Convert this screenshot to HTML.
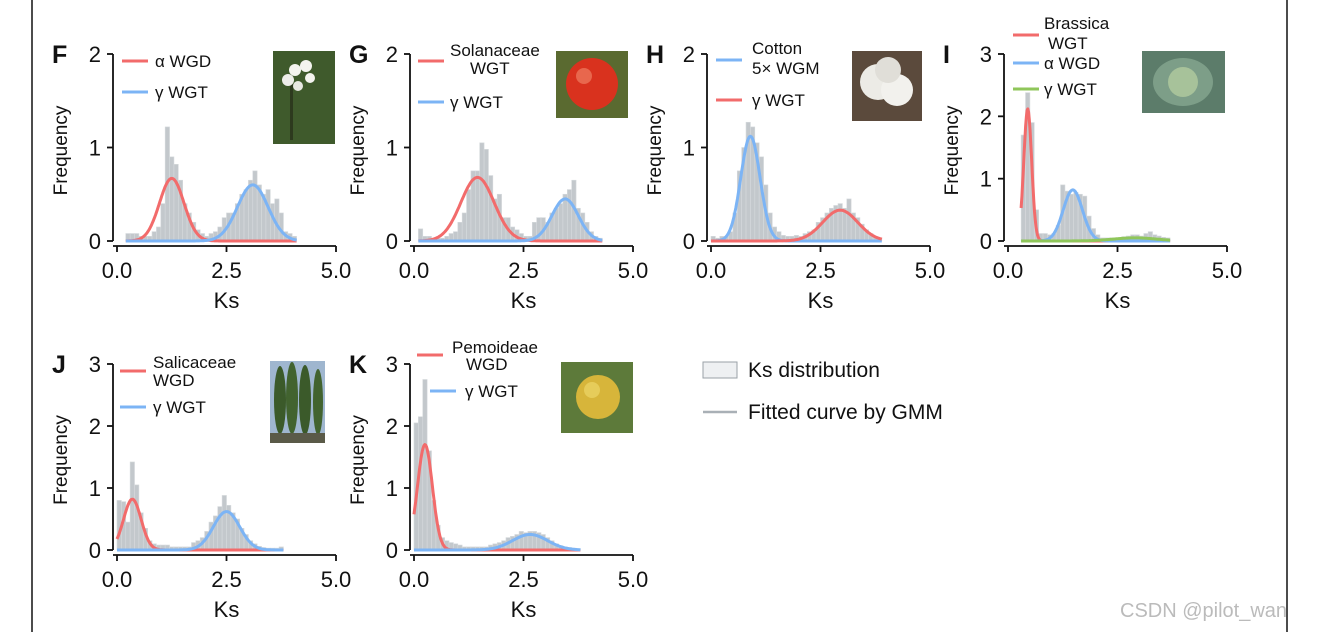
<!DOCTYPE html>
<html><head><meta charset="utf-8">
<style>
html,body{margin:0;padding:0;background:#fff;}
svg{display:block;font-family:"Liberation Sans",Arial,sans-serif;}
</style></head>
<body>
<svg id="fig" width="1324" height="632" viewBox="0 0 1324 632">
<line x1="32" y1="0" x2="32" y2="632" stroke="#111" stroke-width="1.5"/>
<line x1="1287" y1="0" x2="1287" y2="632" stroke="#111" stroke-width="1.5"/>
<g><rect x="273" y="51" width="62" height="93" fill="#3f5a2c"/><rect x="290" y="80" width="3" height="60" fill="#2d3a1e"/><circle cx="295" cy="70" r="6" fill="#f4f4ef"/><circle cx="306" cy="66" r="6" fill="#f4f4ef"/><circle cx="288" cy="80" r="6" fill="#eeeeea"/><circle cx="310" cy="78" r="5" fill="#f4f4ef"/><circle cx="298" cy="86" r="5" fill="#e8e8e2"/></g>
<g><rect x="556" y="51" width="72" height="67" fill="#5a6a30"/><circle cx="592" cy="84" r="26" fill="#d9321e"/><circle cx="584" cy="76" r="8" fill="#e8674d"/></g>
<g><rect x="852" y="51" width="70" height="70" fill="#5b4a3c"/><circle cx="878" cy="82" r="18" fill="#ecebe6"/><circle cx="897" cy="90" r="16" fill="#f2f1ed"/><circle cx="888" cy="70" r="13" fill="#e0ded8"/></g>
<g><rect x="1142" y="51" width="83" height="62" fill="#5c7c6a"/><ellipse cx="1183" cy="82" rx="30" ry="24" fill="#7d9e88"/><circle cx="1183" cy="82" r="15" fill="#a7c29a"/></g>
<g><rect x="270" y="361" width="55" height="82" fill="#9fb6cf"/><ellipse cx="280" cy="400" rx="6" ry="34" fill="#3b5a2a"/><ellipse cx="292" cy="398" rx="6" ry="36" fill="#42632f"/><ellipse cx="305" cy="400" rx="6" ry="35" fill="#3b5a2a"/><ellipse cx="318" cy="402" rx="5" ry="33" fill="#42632f"/><rect x="270" y="433" width="55" height="10" fill="#5a5a48"/></g>
<g><rect x="561" y="362" width="72" height="71" fill="#5d7a3a"/><circle cx="598" cy="397" r="22" fill="#d7b53a"/><circle cx="592" cy="390" r="8" fill="#e6cc5a"/></g>
<rect x="703" y="362" width="34" height="16" fill="#eef0f2" stroke="#9aa1a7" stroke-width="1"/>
<text x="748" y="377" font-size="21" fill="#111">Ks distribution</text>
<line x1="703" y1="412" x2="737" y2="412" stroke="#a9b0b6" stroke-width="2.5"/>
<text x="748" y="419" font-size="21" fill="#111">Fitted curve by GMM</text>
<text x="1120" y="617" font-size="20" fill="#bbb">CSDN @pilot_wan</text>
</svg>
<script>
const svgNS="http://www.w3.org/2000/svg";
const fig=document.getElementById('fig');
const RED="#f26b6b",BLUE="#7cb4f5",GREEN="#8fc65a";

const histF_start=0.2;
const histF=[0.08,0.08,0.08,0.05,0.05,0.05,0.1,0.15,0.4,1.22,0.9,0.82,0.65,0.4,0.3,0.2,0.12,0.08,0.05,0.08,0.1,0.15,0.25,0.3,0.3,0.4,0.5,0.55,0.65,0.75,0.6,0.5,0.55,0.4,0.45,0.3,0.1,0.08,0.05];
const histG_start=0.1;
const histG=[0.13,0.05,0.05,0.03,0.03,0.03,0.05,0.08,0.1,0.2,0.3,0.55,0.75,0.75,1.05,0.98,0.7,0.45,0.5,0.25,0.25,0.15,0.12,0.08,0.05,0.05,0.2,0.25,0.25,0.2,0.3,0.35,0.4,0.5,0.55,0.65,0.35,0.3,0.2,0.1,0.05,0.03];
const histH_start=0.0;
const histH=[0.05,0.03,0.05,0.05,0.1,0.3,0.75,1.0,1.27,1.22,1.05,0.9,0.6,0.3,0.15,0.1,0.06,0.05,0.05,0.06,0.05,0.08,0.1,0.12,0.2,0.25,0.3,0.35,0.38,0.4,0.35,0.45,0.3,0.25,0.18,0.12,0.08,0.05,0.03];
const histI_start=0.3;
const histI=[1.7,2.38,1.9,0.5,0.12,0.12,0.1,0.12,0.25,0.9,0.8,0.75,0.78,0.75,0.72,0.4,0.2,0.1,0.05,0.05,0.05,0.05,0.05,0.07,0.08,0.1,0.1,0.08,0.12,0.15,0.1,0.08,0.06,0.05];
const histJ_start=0.0;
const histJ=[0.8,0.78,0.45,1.42,1.05,0.6,0.35,0.15,0.1,0.08,0.08,0.08,0.05,0.05,0.05,0.05,0.05,0.12,0.15,0.2,0.3,0.45,0.55,0.7,0.88,0.72,0.6,0.5,0.35,0.25,0.15,0.1,0.06,0.04,0.03,0.03,0.03,0.05];
const histK_start=0.0;
const histK=[2.05,2.15,2.75,1.6,0.8,0.4,0.2,0.15,0.12,0.1,0.08,0.05,0.05,0.05,0.05,0.05,0.05,0.08,0.1,0.12,0.15,0.2,0.22,0.25,0.3,0.28,0.3,0.3,0.28,0.25,0.2,0.15,0.1,0.07,0.05,0.04,0.03,0.02];

const compF=[[1.25,0.28,0.67],[3.1,0.35,0.6]];
const compG=[[1.45,0.38,0.68],[3.45,0.3,0.45]];
const compH=[[0.9,0.22,1.12],[2.95,0.4,0.33]];
const compI=[[0.45,0.09,2.12],[1.48,0.22,0.82],[2.9,0.5,0.05]];
const compJ=[[0.35,0.2,0.82],[2.5,0.3,0.62]];
const compK=[[0.25,0.17,1.7],[2.65,0.4,0.25]];

const yTicksF=[0,1,2];
const yTicks3=[0,1,2,3];
const xTicks=[0,2.5,5];

function el(tag,attrs,parent){const e=document.createElementNS(svgNS,tag);for(const k in attrs)e.setAttribute(k,attrs[k]);(parent||fig).appendChild(e);return e;}

function panel(id,letter,ox,y0,ytop,ymax,yticks,hist,hstart,comps,colors,xEnd,legend){
  const g=el('g',{});
  
  
  const W=219;
  const xs=v=>ox+v/5*W;
  const ys=v=>y0-(v/ymax)*(y0-ytop);
  hist.forEach((h,i)=>{
    const x=xs(hstart+i*0.1);
    const r=el('rect',{x:x,y:ys(h),width:xs(0.1)-xs(0),height:y0-ys(h),fill:"#c3c8cc",stroke:"#d6dadd","stroke-width":0.6},g);
    
    
  });
  comps.forEach((c,ci)=>{
    let d="";
    for(let k=0;k<=200;k++){
      const v=hstart+(xEnd-hstart)*k/200;
      const y=c[2]*Math.exp(-0.5*((v-c[0])/c[1])**2);
      d+=(k?"L":"M")+xs(v).toFixed(1)+","+ys(y).toFixed(1);
    }
    const p=el('path',{d:d,fill:"none",stroke:colors[ci],"stroke-width":3,"stroke-linejoin":"round"},g);
    
    
  });
  const ya=el('line',{x1:ox-4,y1:ytop,x2:ox-4,y2:y0,stroke:"#111","stroke-width":1.8},g);
  
  
  yticks.forEach(t=>{
    el('line',{x1:ox-10,y1:ys(t),x2:ox-4,y2:ys(t),stroke:"#111","stroke-width":1.8},g);
    const tx=el('text',{x:ox-16,y:ys(t)+8,"font-size":22,"text-anchor":"end",fill:"#111"},g);
    tx.textContent=t;
    
    
  });
  const xa=el('line',{x1:ox-4,y1:y0+5,x2:ox+W,y2:y0+5,stroke:"#111","stroke-width":1.8},g);
  
  
  xTicks.forEach(t=>{
    el('line',{x1:xs(t),y1:y0+5,x2:xs(t),y2:y0+11,stroke:"#111","stroke-width":1.8},g);
    const tx=el('text',{x:xs(t),y:y0+37,"font-size":22,"text-anchor":"middle",fill:"#111"},g);
    tx.textContent=t.toFixed(1);
    
    
  });
  const xt=el('text',{x:xs(2.5),y:y0+67,"font-size":22,"text-anchor":"middle",fill:"#111"},g);
  xt.textContent="Ks";
  
  
  const cy=(y0+ytop)/2+3;
  const yt=el('text',{x:ox-50,y:cy,"font-size":19,"text-anchor":"middle",fill:"#111",transform:`rotate(-90 ${ox-50} ${cy})`},g);
  yt.textContent="Frequency";
  
  
  const lt=el('text',{x:ox-65,y:ytop+9,"font-size":25,"font-weight":"bold",fill:"#111"},g);
  lt.textContent=letter;
  
  
  legend.forEach(L=>{
    if(L.line){
      const ln=el('line',{x1:L.line[0],y1:L.line[1],x2:L.line[0]+26,y2:L.line[1],stroke:L.c,"stroke-width":3},g);
      
      
    }
    const t=el('text',{x:L.x,y:L.y,"font-size":17,fill:"#111"},g);
    t.textContent=L.t;
    
    
  });
}

panel('f','F',117,241,54,2,yTicksF,histF,histF_start,compF,[RED,BLUE],4.1,[
 {line:[122,61],c:RED,x:155,y:67,t:"α WGD"},{line:[122,92],c:BLUE,x:155,y:98,t:"γ WGT"}]);
panel('g','G',414,241,54,2,yTicksF,histG,histG_start,compG,[RED,BLUE],4.3,[
 {line:[418,61],c:RED,x:450,y:56,t:"Solanaceae"},{x:470,y:74,t:"WGT"},{line:[418,102],c:BLUE,x:450,y:108,t:"γ WGT"}]);
panel('h','H',711,241,54,2,yTicksF,histH,histH_start,compH,[BLUE,RED],3.9,[
 {line:[716,60],c:BLUE,x:752,y:54,t:"Cotton"},{x:752,y:74,t:"5× WGM"},{line:[716,100],c:RED,x:752,y:106,t:"γ WGT"}]);
panel('i','I',1008,241,54,3,yTicks3,histI,histI_start,compI,[RED,BLUE,GREEN],3.7,[
 {line:[1013,35],c:RED,x:1044,y:29,t:"Brassica"},{x:1048,y:49,t:"WGT"},{line:[1013,63],c:BLUE,x:1044,y:69,t:"α WGD"},{line:[1013,89],c:GREEN,x:1044,y:95,t:"γ WGT"}]);
panel('j','J',117,550,364,3,yTicks3,histJ,histJ_start,compJ,[RED,BLUE],3.8,[
 {line:[120,371],c:RED,x:153,y:368,t:"Salicaceae"},{x:153,y:386,t:"WGD"},{line:[120,407],c:BLUE,x:153,y:413,t:"γ WGT"}]);
panel('k','K',414,550,364,3,yTicks3,histK,histK_start,compK,[RED,BLUE],3.8,[
 {line:[417,355],c:RED,x:452,y:353,t:"Pemoideae"},{x:466,y:370,t:"WGD"},{line:[430,391],c:BLUE,x:465,y:397,t:"γ WGT"}]);
</script>
</body></html>
